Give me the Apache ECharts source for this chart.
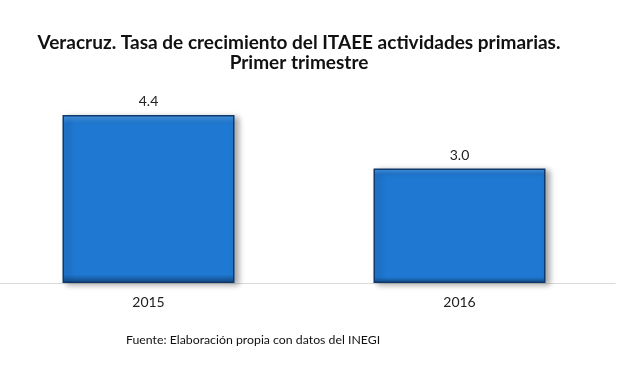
<!DOCTYPE html>
<html>
<head>
<meta charset="utf-8">
<script src="https://cdn.jsdelivr.net/npm/echarts@6/dist/echarts.min.js"></script>
<style>
  html, body { margin: 0; padding: 0; background: #fff; overflow: hidden; }
  #main { width: 647px; height: 376px; margin-left: -7px; }
</style>
</head>
<body>
<div id="main"></div>
<script>
// datos
var anios = ['2015', '2016'];
var tasa = [4.4, 3.0];

// el div se corre 7px a la izquierda, por eso los left llevan +7
var myChart = echarts.init(document.getElementById('main'));
var option = {
  animation: false,
  textStyle: { fontFamily: 'Lato' },
  title: [{
    text: 'Veracruz. Tasa de crecimiento del ITAEE actividades primarias.\nPrimer trimestre',
    left: 306,
    top: 33,
    padding: 0,
    textAlign: 'center',
    textStyle: {
      fontFamily: 'Lato',
      fontSize: 19,
      fontWeight: 'bold',
      color: '#111',
      lineHeight: 20
    }
  }, {
    text: 'Fuente: Elaboración propia con datos del INEGI',
    left: 133,
    top: 334,
    padding: 0,
    textStyle: {
      fontFamily: 'Lato',
      fontSize: 12.3,
      fontWeight: 'normal',
      color: '#111'
    }
  }],
  grid: {
    left: 0,
    right: 25,
    top: 92,
    bottom: 93
  },
  xAxis: {
    type: 'category',
    data: anios,
    axisTick: { show: false },
    axisLine: { lineStyle: { color: '#d9d9d9', width: 1 } },
    axisLabel: { color: '#222', fontSize: 14, margin: 12 }
  },
  yAxis: {
    type: 'value',
    min: 0,
    max: 5,
    show: false,
    splitLine: { show: false }
  },
  series: [{
    type: 'bar',
    data: tasa,
    barWidth: 172,
    itemStyle: {
      color: {
        type: 'linear', x: 0, y: 0, x2: 0, y2: 1,
        colorStops: [
          { offset: 0, color: '#4a9ae6' },
          { offset: 0.05, color: '#1f78d1' },
          { offset: 0.95, color: '#1f78d1' },
          { offset: 1, color: '#154a85' }
        ]
      },
      borderColor: '#0e3a6b',
      borderWidth: 1.5,
      shadowBlur: 6,
      shadowOffsetX: 4,
      shadowOffsetY: 2,
      shadowColor: 'rgba(0,0,0,0.35)'
    },
    label: {
      show: true,
      position: 'top',
      distance: 6,
      formatter: function (p) { return p.value.toFixed(1); },
      color: '#222',
      fontSize: 14
    }
  }]
};
myChart.setOption(option);
</script>
</body>
</html>
